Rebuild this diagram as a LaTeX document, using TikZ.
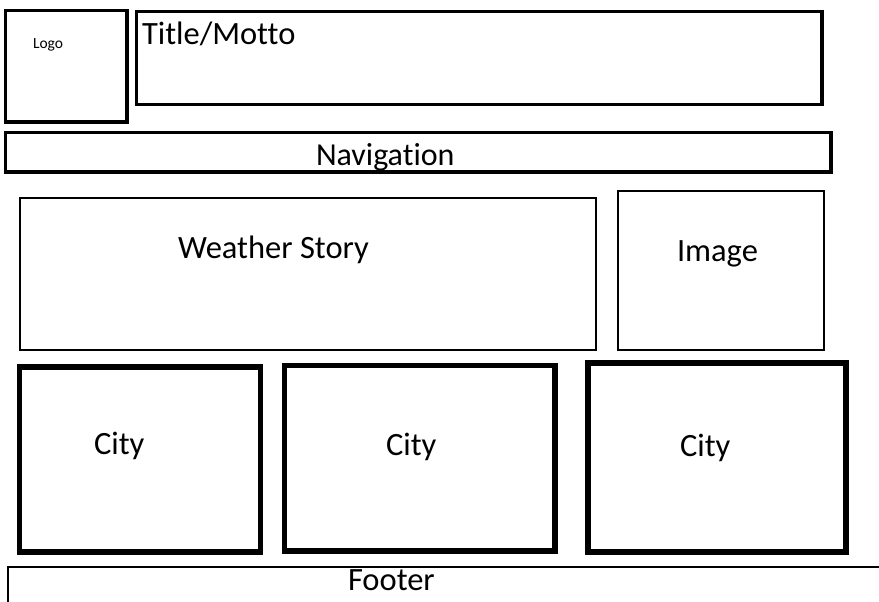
\documentclass[tikz,border=0pt]{standalone}
\usepackage{fontspec}
\setmainfont[Ligatures=NoCommon]{Carlito}

\begin{document}
\begin{tikzpicture}[x=1pt,y=-1pt,
    box/.style = {draw=black, line width=#1},
    box/.default = 2.5pt,
    lbl/.style = {anchor=base west, inner sep=0pt, outer sep=0pt,
                font=\fontsize{32.5}{38}\selectfont}
                    ]
    \useasboundingbox (0,0) rectangle (879,602);
    \def\cityw{5.5pt}
    % header
    \draw[box=3.2pt] (5.5,10.5) rectangle (127,122);
    \draw[box=3.2pt] (136.5,11.5) rectangle (822,104.5);
    \draw[box=3.2pt] (5.5,132.5) rectangle (831,172);
    % content
    \draw[box=2.4pt] (20,198) rectangle (596,350);
    \draw[box=2.7pt] (618,191) rectangle (824,350);
    \draw[box=\cityw] (19.5,367) rectangle (260.5,552);
    \draw[box=\cityw] (284.5,365.5) rectangle (555,551);
    \draw[box=\cityw] (588,363) rectangle (846,552);
    % footer
    \coordinate (f1) at (8,602);
    \coordinate (f2) at (879,567);
    \draw[box=2.7pt] (f1) |- (f2);
    % labels
    \node[lbl, font=\fontsize{15.5}{18}\selectfont] at (33,49) (logo) {Logo};
    \node[lbl, font=\fontsize{32.5}{38}\selectfont] at (142,45) (title) {Title/Motto};
    \node[lbl, font=\fontsize{32}{38}\selectfont] at (316,165) (nav) {Navigation};
    \node[lbl] at (178,258) (story) {Weather Story};
    \node[lbl] at (677,261) (img) {Image};
    \node[lbl] at (94,454) (cityA) {City};
    \node[lbl] at (386,455) (cityB) {City};
    \node[lbl] at (680,456) (cityC) {City};
    \node[lbl] at (348,590) (foot) {Footer};
\end{tikzpicture}
\end{document}
